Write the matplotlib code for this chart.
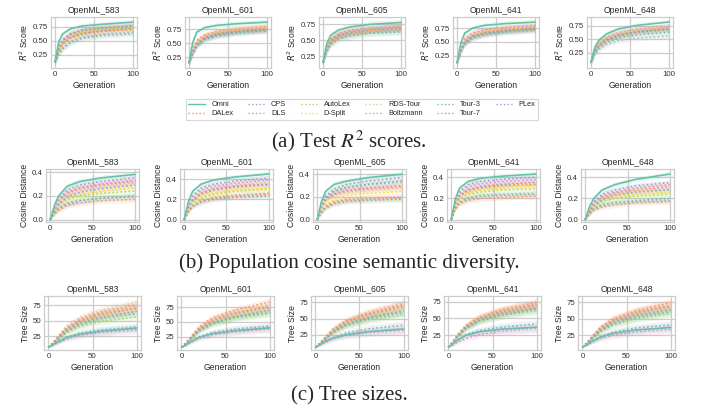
import matplotlib
matplotlib.use("Agg")
import matplotlib.pyplot as plt
import seaborn as sns
from matplotlib.lines import Line2D

sns.set_style("whitegrid")
plt.rcParams["font.family"] = ["Liberation Sans", "DejaVu Sans"]

datasets = ["OpenML_583", "OpenML_601", "OpenML_605", "OpenML_641", "OpenML_648"]
methods = ["Omni", "DALex", "CPS", "DLS", "AutoLex", "D-Split", "RDS-Tour",
           "Boltzmann", "Tour-3", "Tour-7", "PLex"]
gens = [0, 5, 10, 20, 35, 60, 100]

# test R2 scores, one row per method
r2_583 = [
    [0.12, 0.48, 0.62, 0.71, 0.76, 0.79, 0.83],
    [0.12, 0.38, 0.50, 0.61, 0.68, 0.72, 0.76],
    [0.12, 0.33, 0.45, 0.56, 0.63, 0.68, 0.72],
    [0.12, 0.40, 0.52, 0.63, 0.69, 0.73, 0.77],
    [0.12, 0.35, 0.47, 0.58, 0.65, 0.70, 0.73],
    [0.12, 0.36, 0.48, 0.59, 0.66, 0.71, 0.74],
    [0.12, 0.37, 0.49, 0.60, 0.67, 0.71, 0.75],
    [0.10, 0.27, 0.37, 0.48, 0.56, 0.61, 0.65],
    [0.10, 0.25, 0.35, 0.46, 0.54, 0.59, 0.62],
    [0.12, 0.31, 0.43, 0.54, 0.61, 0.66, 0.70],
    [0.12, 0.38, 0.50, 0.61, 0.68, 0.72, 0.76],
]
r2_601 = [
    [0.15, 0.52, 0.70, 0.78, 0.82, 0.85, 0.88],
    [0.15, 0.40, 0.55, 0.65, 0.71, 0.76, 0.80],
    [0.15, 0.33, 0.47, 0.58, 0.65, 0.70, 0.74],
    [0.15, 0.40, 0.54, 0.64, 0.70, 0.75, 0.79],
    [0.15, 0.38, 0.52, 0.62, 0.69, 0.74, 0.78],
    [0.15, 0.37, 0.51, 0.62, 0.68, 0.73, 0.77],
    [0.15, 0.39, 0.53, 0.63, 0.70, 0.75, 0.79],
    [0.15, 0.32, 0.45, 0.56, 0.63, 0.68, 0.72],
    [0.15, 0.33, 0.46, 0.57, 0.64, 0.69, 0.73],
    [0.15, 0.36, 0.50, 0.61, 0.67, 0.72, 0.76],
    [0.15, 0.34, 0.48, 0.59, 0.66, 0.71, 0.75],
]
r2_605 = [
    [0.15, 0.45, 0.58, 0.66, 0.71, 0.75, 0.78],
    [0.15, 0.40, 0.52, 0.60, 0.65, 0.69, 0.72],
    [0.15, 0.36, 0.48, 0.57, 0.62, 0.66, 0.69],
    [0.15, 0.40, 0.52, 0.60, 0.65, 0.68, 0.71],
    [0.15, 0.38, 0.50, 0.58, 0.63, 0.67, 0.70],
    [0.15, 0.37, 0.49, 0.58, 0.63, 0.66, 0.69],
    [0.15, 0.39, 0.51, 0.59, 0.64, 0.68, 0.71],
    [0.15, 0.33, 0.44, 0.53, 0.58, 0.62, 0.65],
    [0.15, 0.32, 0.43, 0.52, 0.57, 0.61, 0.63],
    [0.15, 0.36, 0.48, 0.56, 0.61, 0.65, 0.68],
    [0.15, 0.38, 0.50, 0.58, 0.63, 0.67, 0.70],
]
r2_641 = [
    [0.12, 0.48, 0.66, 0.75, 0.80, 0.83, 0.86],
    [0.12, 0.40, 0.55, 0.65, 0.71, 0.75, 0.79],
    [0.12, 0.34, 0.48, 0.59, 0.65, 0.70, 0.74],
    [0.12, 0.41, 0.56, 0.66, 0.72, 0.76, 0.80],
    [0.12, 0.38, 0.53, 0.63, 0.69, 0.73, 0.77],
    [0.12, 0.37, 0.52, 0.62, 0.68, 0.72, 0.76],
    [0.12, 0.39, 0.54, 0.64, 0.70, 0.74, 0.78],
    [0.12, 0.31, 0.45, 0.56, 0.62, 0.67, 0.71],
    [0.12, 0.33, 0.47, 0.58, 0.64, 0.68, 0.72],
    [0.12, 0.36, 0.51, 0.61, 0.67, 0.71, 0.75],
    [0.12, 0.35, 0.50, 0.60, 0.66, 0.70, 0.74],
]
r2_648 = [
    [0.08, 0.35, 0.48, 0.60, 0.69, 0.76, 0.82],
    [0.08, 0.30, 0.42, 0.53, 0.61, 0.68, 0.73],
    [0.08, 0.27, 0.38, 0.48, 0.56, 0.63, 0.68],
    [0.08, 0.31, 0.43, 0.54, 0.62, 0.69, 0.74],
    [0.08, 0.29, 0.41, 0.51, 0.59, 0.66, 0.71],
    [0.08, 0.30, 0.42, 0.52, 0.60, 0.67, 0.72],
    [0.08, 0.31, 0.43, 0.53, 0.61, 0.68, 0.73],
    [0.06, 0.22, 0.31, 0.40, 0.47, 0.52, 0.56],
    [0.06, 0.24, 0.34, 0.44, 0.52, 0.58, 0.63],
    [0.08, 0.28, 0.39, 0.49, 0.57, 0.64, 0.69],
    [0.08, 0.29, 0.40, 0.50, 0.58, 0.65, 0.70],
]

# population cosine distance
cos_583 = [
    [0.0, 0.12, 0.20, 0.28, 0.32, 0.35, 0.38],
    [0.0, 0.09, 0.15, 0.22, 0.26, 0.29, 0.32],
    [0.0, 0.10, 0.17, 0.25, 0.29, 0.32, 0.35],
    [0.0, 0.10, 0.16, 0.23, 0.27, 0.30, 0.33],
    [0.0, 0.07, 0.12, 0.17, 0.20, 0.22, 0.24],
    [0.0, 0.07, 0.12, 0.18, 0.21, 0.24, 0.27],
    [0.0, 0.09, 0.15, 0.21, 0.25, 0.28, 0.31],
    [0.0, 0.06, 0.10, 0.14, 0.16, 0.18, 0.19],
    [0.0, 0.05, 0.09, 0.13, 0.16, 0.18, 0.20],
    [0.0, 0.05, 0.08, 0.12, 0.14, 0.16, 0.17],
    [0.0, 0.08, 0.13, 0.19, 0.23, 0.26, 0.29],
]
cos_601 = [
    [0.0, 0.18, 0.28, 0.35, 0.39, 0.42, 0.45],
    [0.0, 0.12, 0.19, 0.25, 0.29, 0.32, 0.34],
    [0.0, 0.15, 0.24, 0.31, 0.35, 0.38, 0.41],
    [0.0, 0.14, 0.22, 0.29, 0.33, 0.36, 0.39],
    [0.0, 0.10, 0.16, 0.21, 0.25, 0.28, 0.30],
    [0.0, 0.10, 0.17, 0.23, 0.26, 0.29, 0.31],
    [0.0, 0.13, 0.21, 0.27, 0.31, 0.34, 0.37],
    [0.0, 0.09, 0.14, 0.19, 0.22, 0.24, 0.26],
    [0.0, 0.08, 0.13, 0.17, 0.20, 0.22, 0.23],
    [0.0, 0.08, 0.13, 0.18, 0.21, 0.23, 0.25],
    [0.0, 0.12, 0.19, 0.26, 0.30, 0.33, 0.35],
]
cos_605 = [
    [0.0, 0.16, 0.25, 0.31, 0.34, 0.37, 0.40],
    [0.0, 0.11, 0.17, 0.22, 0.25, 0.27, 0.29],
    [0.0, 0.13, 0.21, 0.27, 0.31, 0.34, 0.37],
    [0.0, 0.11, 0.18, 0.23, 0.26, 0.28, 0.30],
    [0.0, 0.12, 0.19, 0.25, 0.29, 0.31, 0.33],
    [0.0, 0.08, 0.13, 0.18, 0.21, 0.23, 0.25],
    [0.0, 0.10, 0.16, 0.21, 0.24, 0.26, 0.28],
    [0.0, 0.07, 0.12, 0.16, 0.18, 0.19, 0.20],
    [0.0, 0.06, 0.10, 0.14, 0.16, 0.17, 0.18],
    [0.0, 0.07, 0.11, 0.15, 0.17, 0.18, 0.19],
    [0.0, 0.12, 0.19, 0.25, 0.28, 0.31, 0.34],
]
cos_641 = [
    [0.0, 0.20, 0.30, 0.36, 0.39, 0.41, 0.43],
    [0.0, 0.15, 0.22, 0.27, 0.30, 0.32, 0.33],
    [0.0, 0.18, 0.27, 0.33, 0.36, 0.38, 0.40],
    [0.0, 0.17, 0.25, 0.31, 0.34, 0.36, 0.38],
    [0.0, 0.13, 0.19, 0.24, 0.26, 0.28, 0.29],
    [0.0, 0.13, 0.20, 0.25, 0.28, 0.30, 0.32],
    [0.0, 0.16, 0.24, 0.29, 0.32, 0.34, 0.36],
    [0.0, 0.12, 0.17, 0.21, 0.23, 0.24, 0.25],
    [0.0, 0.11, 0.16, 0.20, 0.22, 0.23, 0.24],
    [0.0, 0.10, 0.15, 0.18, 0.20, 0.21, 0.22],
    [0.0, 0.15, 0.23, 0.28, 0.31, 0.33, 0.35],
]
cos_648 = [
    [0.0, 0.12, 0.20, 0.28, 0.33, 0.38, 0.43],
    [0.0, 0.09, 0.15, 0.21, 0.25, 0.28, 0.31],
    [0.0, 0.10, 0.17, 0.24, 0.28, 0.32, 0.35],
    [0.0, 0.09, 0.16, 0.22, 0.26, 0.30, 0.33],
    [0.0, 0.07, 0.12, 0.17, 0.20, 0.22, 0.24],
    [0.0, 0.08, 0.13, 0.18, 0.21, 0.24, 0.26],
    [0.0, 0.09, 0.14, 0.20, 0.24, 0.27, 0.29],
    [0.0, 0.06, 0.10, 0.14, 0.16, 0.17, 0.18],
    [0.0, 0.06, 0.10, 0.14, 0.16, 0.18, 0.20],
    [0.0, 0.05, 0.09, 0.12, 0.14, 0.16, 0.17],
    [0.0, 0.08, 0.13, 0.19, 0.23, 0.26, 0.28],
]

# tree sizes
size_583 = [
    [7, 11, 15, 22, 28, 33, 38],
    [7, 14, 22, 38, 52, 64, 76],
    [7, 11, 15, 23, 30, 35, 40],
    [7, 10, 14, 20, 26, 31, 35],
    [7, 12, 18, 30, 40, 49, 56],
    [7, 13, 20, 34, 47, 58, 68],
    [7, 15, 24, 41, 55, 67, 80],
    [7, 14, 22, 37, 50, 61, 72],
    [7, 12, 19, 32, 43, 53, 62],
    [7, 14, 21, 36, 49, 60, 70],
    [7, 13, 20, 34, 46, 56, 65],
]
size_601 = [
    [7, 11, 16, 24, 30, 35, 40],
    [7, 15, 24, 42, 57, 70, 84],
    [7, 11, 16, 25, 32, 38, 43],
    [7, 10, 15, 22, 28, 33, 38],
    [7, 13, 20, 34, 46, 56, 64],
    [7, 14, 22, 38, 52, 63, 72],
    [7, 15, 23, 40, 55, 67, 80],
    [7, 14, 22, 38, 52, 64, 74],
    [7, 13, 20, 35, 47, 58, 66],
    [7, 14, 22, 39, 53, 65, 76],
    [7, 13, 21, 36, 49, 59, 70],
]
size_605 = [
    [6, 10, 14, 20, 25, 30, 34],
    [6, 12, 19, 33, 46, 58, 72],
    [6, 10, 14, 21, 28, 34, 40],
    [6, 9, 13, 19, 24, 28, 32],
    [6, 11, 17, 28, 39, 48, 56],
    [6, 12, 18, 31, 43, 54, 64],
    [6, 13, 20, 35, 48, 60, 75],
    [6, 12, 19, 32, 45, 56, 68],
    [6, 11, 17, 29, 40, 50, 60],
    [6, 12, 19, 33, 46, 57, 70],
    [6, 11, 18, 30, 42, 52, 62],
]
size_641 = [
    [7, 12, 17, 25, 30, 34, 37],
    [7, 16, 25, 40, 52, 63, 74],
    [7, 12, 17, 26, 32, 37, 42],
    [7, 10, 14, 20, 26, 31, 35],
    [7, 14, 22, 35, 46, 55, 62],
    [7, 15, 23, 37, 49, 59, 68],
    [7, 16, 25, 40, 52, 62, 72],
    [7, 15, 24, 38, 50, 60, 70],
    [7, 14, 22, 35, 46, 55, 64],
    [7, 15, 24, 39, 51, 61, 71],
    [7, 15, 23, 37, 48, 58, 66],
]
size_648 = [
    [7, 11, 15, 22, 28, 33, 37],
    [7, 14, 22, 37, 50, 62, 75],
    [7, 11, 15, 23, 30, 36, 41],
    [7, 10, 14, 20, 25, 30, 34],
    [7, 12, 18, 30, 41, 50, 58],
    [7, 13, 20, 34, 46, 57, 66],
    [7, 14, 22, 37, 50, 61, 72],
    [7, 13, 21, 35, 47, 58, 68],
    [7, 12, 19, 31, 42, 52, 61],
    [7, 13, 21, 36, 49, 60, 70],
    [7, 13, 20, 33, 45, 55, 64],
]

# half-width of the shaded bands
r2_spread = [0.05, 0.05, 0.05, 0.05, 0.05, 0.05, 0.05]
cos_spread = [0.0, 0.02, 0.02, 0.025, 0.025, 0.025, 0.025]
size_spread = [0.5, 2, 3, 4, 5, 6, 6]

rows = [
    ([r2_583, r2_601, r2_605, r2_641, r2_648], r2_spread, "$R^2$ Score",
     [0.25, 0.5, 0.75], "{:.2f}"),
    ([cos_583, cos_601, cos_605, cos_641, cos_648], cos_spread, "Cosine Distance",
     [0.0, 0.2, 0.4], "{:.1f}"),
    ([size_583, size_601, size_605, size_641, size_648], size_spread, "Tree Size",
     [25, 50, 75], "{:.0f}"),
]
# panel boxes in pixels of the 702x408 picture
row_tops = [17, 169, 296]
row_heights = [51, 53, 54]
row_lefts = [[51, 185, 319, 453, 587], [46, 180, 313, 447, 581], [44, 177, 311, 444, 578]]
row_widths = [86, 93, 97]
captions = ["(a) Test $R^2$ scores.", "(b) Population cosine semantic diversity.",
            "(c) Tree sizes."]
caption_base = [147, 268, 400]

colors = sns.color_palette("Set2", 8)
W, H = 702, 408

fig = plt.figure(figsize=(W / 100, H / 100), dpi=100)

for r, (panels, spread, ylab, yt, fmt) in enumerate(rows):
    for c, data in enumerate(panels):
        left = row_lefts[r][c]
        ax = fig.add_axes([left / W, 1 - (row_tops[r] + row_heights[r]) / H,
                           row_widths[r] / W, row_heights[r] / H])
        for i, vals in enumerate(data):
            col = colors[i % 8]
            lo = [v - s for v, s in zip(vals, spread)]
            hi = [v + s for v, s in zip(vals, spread)]
            ax.fill_between(gens, lo, hi, color=col, alpha=0.14, linewidth=0)
            if i == 0:
                ax.plot(gens, vals, color=col, lw=1.2, zorder=5)
            else:
                ax.plot(gens, vals, color=col, lw=1.1, ls=":")
        ax.set_xticks([0, 50, 100])
        ax.set_yticks(yt)
        ax.set_yticklabels([fmt.format(v) for v in yt])
        ax.tick_params(labelsize=5.7, pad=2, length=0, colors="#333333")
        ax.set_title(datasets[c], fontsize=6.2, pad=3, color="#262626")
        ax.set_xlabel("Generation", fontsize=6.2, labelpad=2, color="#262626")
        ax.set_ylabel(ylab, fontsize=6.2, labelpad=2, color="#262626")
        for sp in ax.spines.values():
            sp.set_linewidth(0.9)
        ax.grid(linewidth=0.9)
    fig.text(349 / W, 1 - caption_base[r] / H, captions[r], ha="center", va="baseline",
             fontsize=15, family="Liberation Serif", math_fontfamily="stix")

handles = []
for i, m in enumerate(methods):
    handles.append(Line2D([], [], color=colors[i % 8], lw=1.0,
                          ls="-" if i == 0 else ":", label=m))
leg = fig.legend(handles=handles, loc="upper center", ncol=6,
                 bbox_to_anchor=(362 / W, 1 - 95 / H), fontsize=5.3,
                 handlelength=2.3, columnspacing=2.0, labelspacing=0.25,
                 borderpad=0.35, frameon=True, fancybox=False)
leg.get_frame().set_edgecolor("#cccccc")
leg.get_frame().set_linewidth(0.8)

plt.savefig("out.png", dpi=100)
